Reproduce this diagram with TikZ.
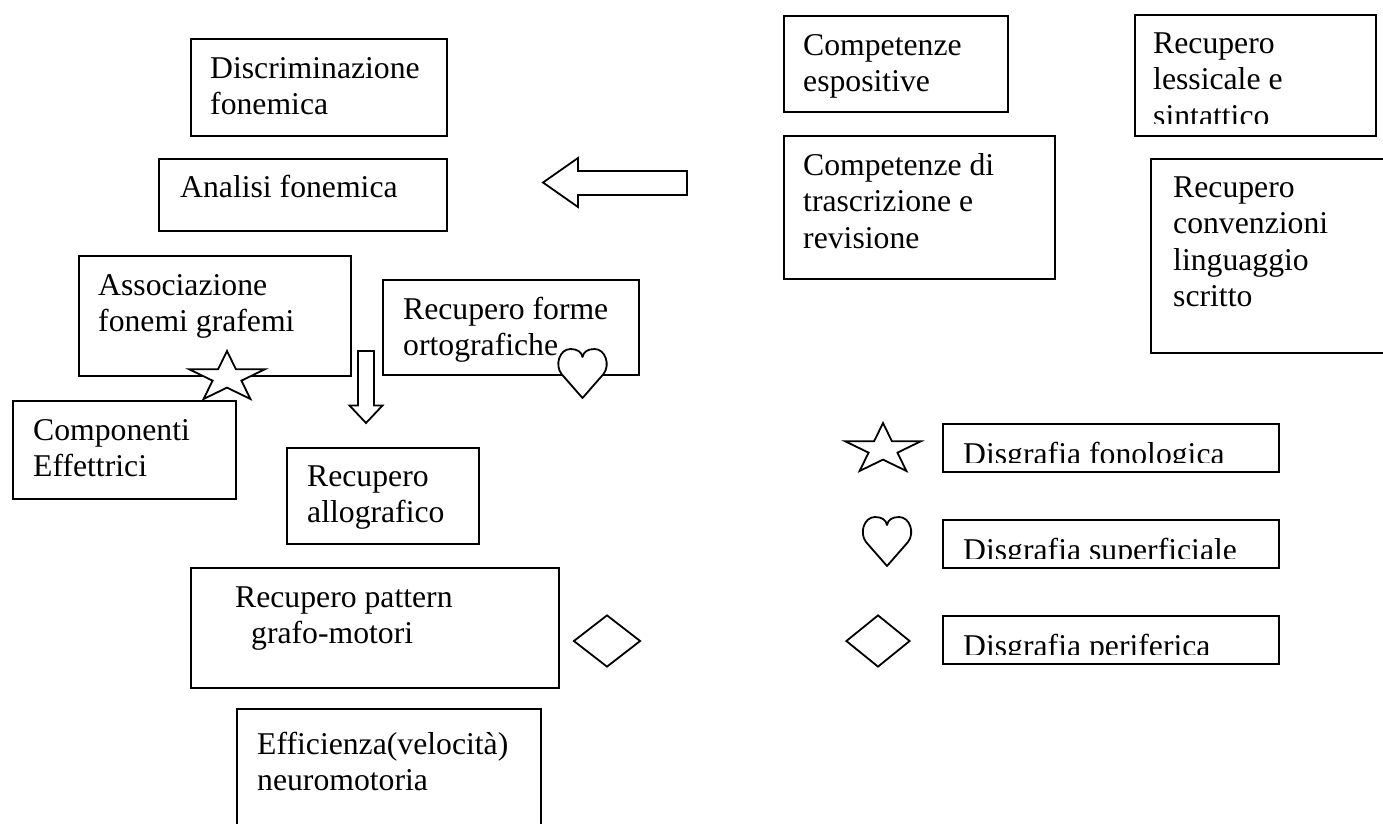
\documentclass[tikz,border=0pt]{standalone}
\usepackage{fontspec}
\setmainfont{Liberation Serif}
\usetikzlibrary{shapes.geometric,positioning}

\tikzset{
  heart/.pic={
    \draw[fill=white,line width=1.8pt,line join=round] (0,49) -- (-21,25)
      .. controls (-28,16) and (-23,0) .. (-12,0)
      .. controls (-5,0) and (-1,3) .. (0,8)
      .. controls (1,3) and (5,0) .. (12,0)
      .. controls (23,0) and (28,16) .. (21,25) -- cycle;
  }
}

\begin{document}
\begin{tikzpicture}[
  x=1pt,y=-1pt,
  box/.style={draw,line width=1.8pt,inner sep=0pt,anchor=north west},
  txt/.style={anchor=base west,inner sep=0pt,align=left,font=\fontsize{31.7}{36.5}\selectfont},
  sym/.style={draw,fill=white,line width=1.8pt,inner sep=0pt},
  blockar/.style={draw,fill=white,line width=1.8pt,line join=miter}
]
\useasboundingbox (0,0) rectangle (1383,823);

% left column (text shift = baseline of the last line)
\node[box,minimum width=256,minimum height=97] (disc) at (190,38) {};
\node[txt] (disc-t) at ([shift={(20,76.5)}]disc.north west) {Discriminazione\\fonemica};
\node[box,minimum width=288,minimum height=72] (anal) at (158,158) {};
\node[txt] (anal-t) at ([shift={(22,39)}]anal.north west) {Analisi fonemica};
\node[box,minimum width=272,minimum height=120] (assoc) at (78,255) {};
\node[txt] (assoc-t) at ([shift={(20,76.5)}]assoc.north west) {Associazione\\fonemi grafemi};
\node[box,minimum width=256,minimum height=95] (forme) at (382,279) {};
\node[txt] (forme-t) at ([shift={(21,76.5)}]forme.north west) {Recupero forme\\ortografiche};
\node[box,minimum width=223,minimum height=98] (comp) at (12,400) {};
\node[txt] (comp-t) at ([shift={(21,76.5)}]comp.north west) {Componenti\\Effettrici};
\node[box,minimum width=192,minimum height=96] (allog) at (286,447) {};
\node[txt] (allog-t) at ([shift={(21,75.5)}]allog.north west) {Recupero\\allografico};
\node[box,minimum width=368,minimum height=120] (patt) at (190,567) {};
\node[txt] (patt-t) at ([shift={(45,76.5)}]patt.north west) {Recupero pattern\\\hspace*{16pt}grafo-motori};
\node[box,minimum width=304,minimum height=130] (effic) at (236,708) {};
\node[txt] (effic-t) at ([shift={(21,82.5)}]effic.north west) {Efficienza(velocità)\\neuromotoria};

% right column
\node[box,minimum width=224,minimum height=96] (espo) at (783,15) {};
\node[txt] (espo-t) at ([shift={(20,76.5)}]espo.north west) {Competenze\\espositive};
\node[box,minimum width=271,minimum height=143] (trasc) at (783,135) {};
\node[txt] (trasc-t) at ([shift={(20,113)}]trasc.north west) {Competenze di\\trascrizione e\\revisione};
\node[box,minimum width=241,minimum height=121] (less) at (1134,14) {};
\begin{scope}
  \clip (1134,14) rectangle (1375,123);
  \node[txt] (less-t) at ([shift={(19,112)}]less.north west) {Recupero\\lessicale e\\sintattico};
\end{scope}
\node[box,minimum width=245,minimum height=194] (conv) at (1150,158) {};
\node[txt] (conv-t) at ([shift={(23,148.5)}]conv.north west) {Recupero\\convenzioni\\linguaggio\\scritto};

% legend
\node[box,minimum width=336,minimum height=48] (fono) at (942,423) {};
\node[box,minimum width=336,minimum height=48] (superf) at (942,519) {};
\node[box,minimum width=336,minimum height=48] (perif) at (942,615) {};
\begin{scope}
  \clip (942,423) rectangle (1278,462);
  \node[txt] (fono-t) at ([shift={(21,41)}]fono.north west) {Disgrafia fonologica};
\end{scope}
\begin{scope}
  \clip (942,519) rectangle (1278,558);
  \node[txt] (superf-t) at ([shift={(21,41)}]superf.north west) {Disgrafia superficiale};
\end{scope}
\begin{scope}
  \clip (942,615) rectangle (1278,654);
  \node[txt] (perif-t) at ([shift={(21,41)}]perif.north west) {Disgrafia periferica};
\end{scope}

% block arrows
\draw[blockar] (687,171) -- (578,171) -- (578,158) -- (543,182.5) -- (578,207) -- (578,195) -- (687,195) -- cycle;
\draw[blockar] (358,351) -- (374,351) -- (374,405.5) -- (382.5,405.5) -- (366,423) -- (349.5,405.5) -- (358,405.5) -- cycle;

% symbols
\node[sym,star,star points=5,star point ratio=2.618,minimum size=53,xscale=1.5] (star1) at (227,377.5) {};
\node[sym,star,star points=5,star point ratio=2.618,minimum size=53,xscale=1.5] (star2) at (883,449.5) {};
\pic (heart1) at (582.5,349) {heart};
\pic (heart2) at (887,517) {heart};
\node[sym,diamond,minimum width=67,minimum height=52] (dia1) at (607,641) {};
\node[sym,diamond,minimum width=64,minimum height=52] (dia2) at (878,641) {};
\end{tikzpicture}
\end{document}
